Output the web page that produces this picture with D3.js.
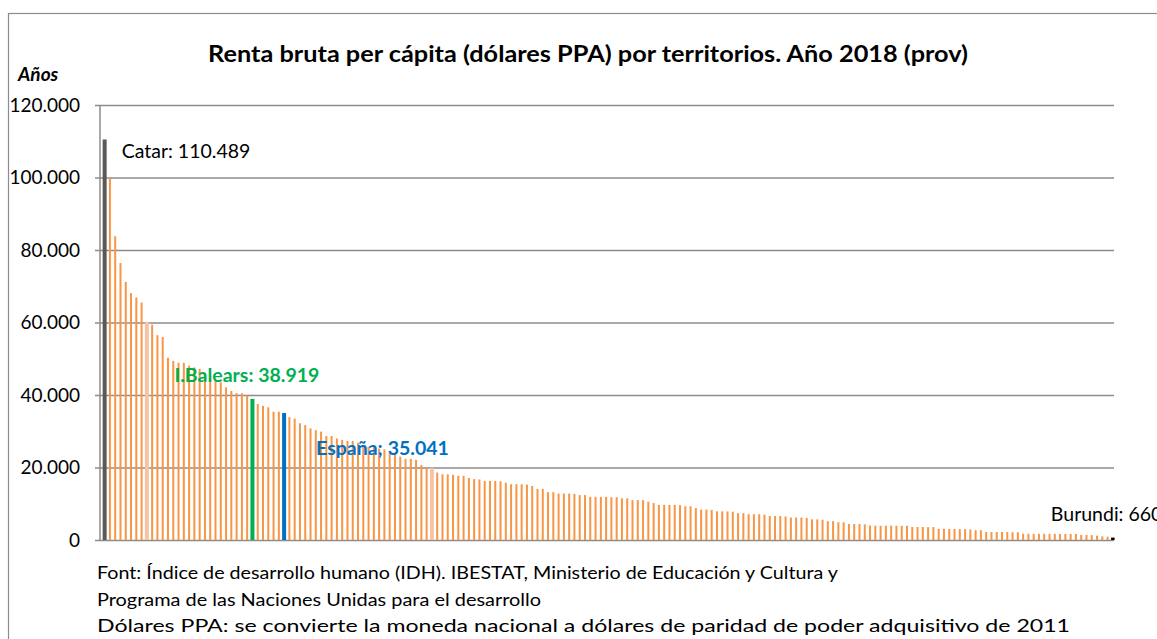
<!DOCTYPE html>
<html>
<head>
<meta charset="utf-8">
<script src="https://cdn.jsdelivr.net/npm/d3@7"></script>
<style>
  html, body { margin: 0; background: #fff; overflow: hidden; }
  svg { display: block; }
  text { font-family: Lato, "Open Sans", sans-serif; }
</style>
</head>
<body>
<div id="chart"></div>
<script>
// Renta bruta per cápita (dólares PPA), 2018, ordered from highest to lowest
const valores = [
  110489, 99700, 83800, 76400, 71200, 68100, 66900, 65500, 60200, 59400,
  56500, 56000, 50300, 49400, 48900, 48900, 48100, 47600, 47200, 46000,
  45100, 44100, 43500, 42100, 41100, 40500, 40500, 39800, 38919, 37500,
  37000, 36600, 35400, 35400, 35041, 33900, 33500, 32200, 31700, 30800,
  30300, 29900, 28700, 28700, 28000, 27600, 27300, 27300, 26800, 26100,
  25700, 25500, 25200, 25000, 24100, 23500, 23000, 22400, 22400, 22100,
  20700, 19900, 19900, 18600, 18100, 18100, 18000, 17700, 17700, 17100,
  16800, 16700, 16300, 16300, 16300, 16200, 15800, 15400, 15400, 15400,
  15300, 14900, 14100, 14100, 13200, 13200, 12800, 12800, 12800, 12700,
  12400, 12400, 11900, 11900, 11900, 11900, 11800, 11800, 11500, 11500,
  11000, 11000, 11000, 10600, 10200, 9700, 9700, 9700, 9700, 9600,
  9300, 9300, 8800, 8400, 8400, 8300, 7900, 7900, 7900, 7800,
  7400, 7400, 7100, 7100, 7100, 7000, 6600, 6600, 6600, 6500,
  6200, 6200, 6200, 6100, 5700, 5700, 5600, 5200, 5200, 4900,
  4900, 4400, 4400, 4400, 4300, 4000, 3950, 3950, 3950, 3950,
  3950, 3900, 3900, 3600, 3600, 3600, 3550, 3550, 3100, 3100,
  3050, 3050, 3000, 3000, 2900, 2700, 2700, 2250, 2200, 2200,
  2200, 2200, 2150, 2150, 1750, 1700, 1700, 1700, 1700, 1700,
  1700, 1650, 1650, 1650, 1650, 1400, 1400, 1350, 1200, 1000,
  900, 660
];

// highlighted territories (index in the ranking -> colour)
const destacados = [
  { i: 0, color: "#595959", ancho: 4 },          // Catar
  { i: 8, color: "#F5C4A8", ancho: 4 },
  { i: 28, color: "#00B050", ancho: 4 },         // I.Balears
  { i: 34, color: "#0070C0", ancho: 4 },         // España
  { i: 62, color: "#F5C4A8", ancho: 4 },
  { i: 191, color: "#000000", ancho: 3.5 }       // Burundi
];

const etiquetas = [
  { i: 0, texto: "Catar: 110.489", color: "#000", bold: false },
  { i: 28, texto: "I.Balears: 38.919", color: "#00B050", bold: true },
  { i: 34, texto: "España; 35.041", color: "#0070C0", bold: true },
  { i: 191, texto: "Burundi: 660", color: "#000", bold: false }
];

const ticksY = [0, 20000, 40000, 60000, 80000, 100000, 120000];

const notas = [
  "Font: Índice de desarrollo humano (IDH). IBESTAT, Ministerio de Educación y Cultura y",
  "Programa de las Naciones Unidas para el desarrollo",
  "Dólares PPA: se convierte la moneda nacional a dólares de paridad de poder adquisitivo de 2011"
];

const W = 1157, H = 639;
const margin = { top: 105, right: 43, bottom: 99, left: 100 };
const width = W - margin.left - margin.right;
const height = H - margin.top - margin.bottom;

const svg = d3.select("#chart")
  .append("svg")
  .attr("width", W)
  .attr("height", H);

// outer border of the chart area
svg.append("rect")
  .attr("x", 8.5).attr("y", 13.5)
  .attr("width", 1300).attr("height", 800)
  .attr("fill", "none")
  .attr("stroke", "#8c8c8c")
  .attr("stroke-width", 1.2);

const g = svg.append("g")
  .attr("transform", `translate(${margin.left},${margin.top})`);

const x = d3.scaleBand()
  .domain(d3.range(valores.length))
  .range([2, width + 1.5]);

const y = d3.scaleLinear()
  .domain([0, 120000])
  .range([height, 0]);

const fmt = d3.formatLocale({ decimal: ",", thousands: ".", grouping: [3], currency: ["", ""] }).format(",");

// y axis with gridlines
const yAxis = d3.axisLeft(y)
  .tickValues(ticksY)
  .tickSize(-width)
  .tickPadding(20)
  .tickFormat(fmt);

g.append("g")
  .attr("class", "y axis")
  .call(yAxis)
  .call(s => s.select(".domain").remove())
  .call(s => s.selectAll(".tick line")
    .attr("x1", -5)
    .attr("stroke", "#8c8c8c")
    .attr("stroke-width", 1.5))
  .call(s => s.selectAll(".tick text")
    .attr("fill", "#000")
    .style("font-size", "19px"));

// vertical axis line
g.append("line")
  .attr("x1", 0).attr("x2", 0)
  .attr("y1", 0).attr("y2", height)
  .attr("stroke", "#8c8c8c")
  .attr("stroke-width", 1.5);

// bars
const colorDe = new Map(destacados.map(d => [d.i, d]));
const anchoBarra = i => colorDe.has(i) ? colorDe.get(i).ancho : 2;

g.selectAll(".bar")
  .data(valores)
  .enter().append("rect")
  .attr("class", "bar")
  .attr("x", (d, i) => x(i) + x.bandwidth() / 2 - anchoBarra(i) / 2)
  .attr("y", d => y(d))
  .attr("width", (d, i) => anchoBarra(i))
  .attr("height", d => height - y(d))
  .attr("fill", (d, i) => colorDe.has(i) ? colorDe.get(i).color : "#F79646");

// labels
const posEtiqueta = {
  0: { dx: 17, y: 158 },
  28: { dx: -78, y: 382 },
  34: { dx: 32, y: 455 },
  191: { dx: -62, y: 521 }
};

svg.selectAll(".etiqueta")
  .data(etiquetas)
  .enter().append("text")
  .attr("class", "etiqueta")
  .attr("x", d => margin.left + x(d.i) + x.bandwidth() / 2 + posEtiqueta[d.i].dx)
  .attr("y", d => posEtiqueta[d.i].y)
  .attr("fill", d => d.color)
  .style("font-weight", d => d.bold ? "bold" : "normal")
  .style("font-size", "19.5px")
  .text(d => d.texto);

// title
svg.append("text")
  .attr("x", 588)
  .attr("y", 62)
  .attr("text-anchor", "middle")
  .style("font-size", "23px")
  .style("font-weight", "bold")
  .attr("textLength", 760)
  .attr("lengthAdjust", "spacingAndGlyphs")
  .text("Renta bruta per cápita (dólares PPA) por territorios. Año 2018 (prov)");

// y axis unit
svg.append("text")
  .attr("x", 18)
  .attr("y", 81)
  .style("font-size", "19px")
  .style("font-weight", "bold")
  .style("font-style", "italic")
  .text("Años");

// footnotes
const largos = [741, 444, 973];
svg.selectAll(".nota")
  .data(notas)
  .enter().append("text")
  .attr("class", "nota")
  .attr("x", 97)
  .attr("y", (d, i) => 579 + i * 26.5)
  .style("font-size", "16.5px")
  .attr("textLength", (d, i) => largos[i])
  .attr("lengthAdjust", "spacingAndGlyphs")
  .text(d => d);
</script>
</body>
</html>
